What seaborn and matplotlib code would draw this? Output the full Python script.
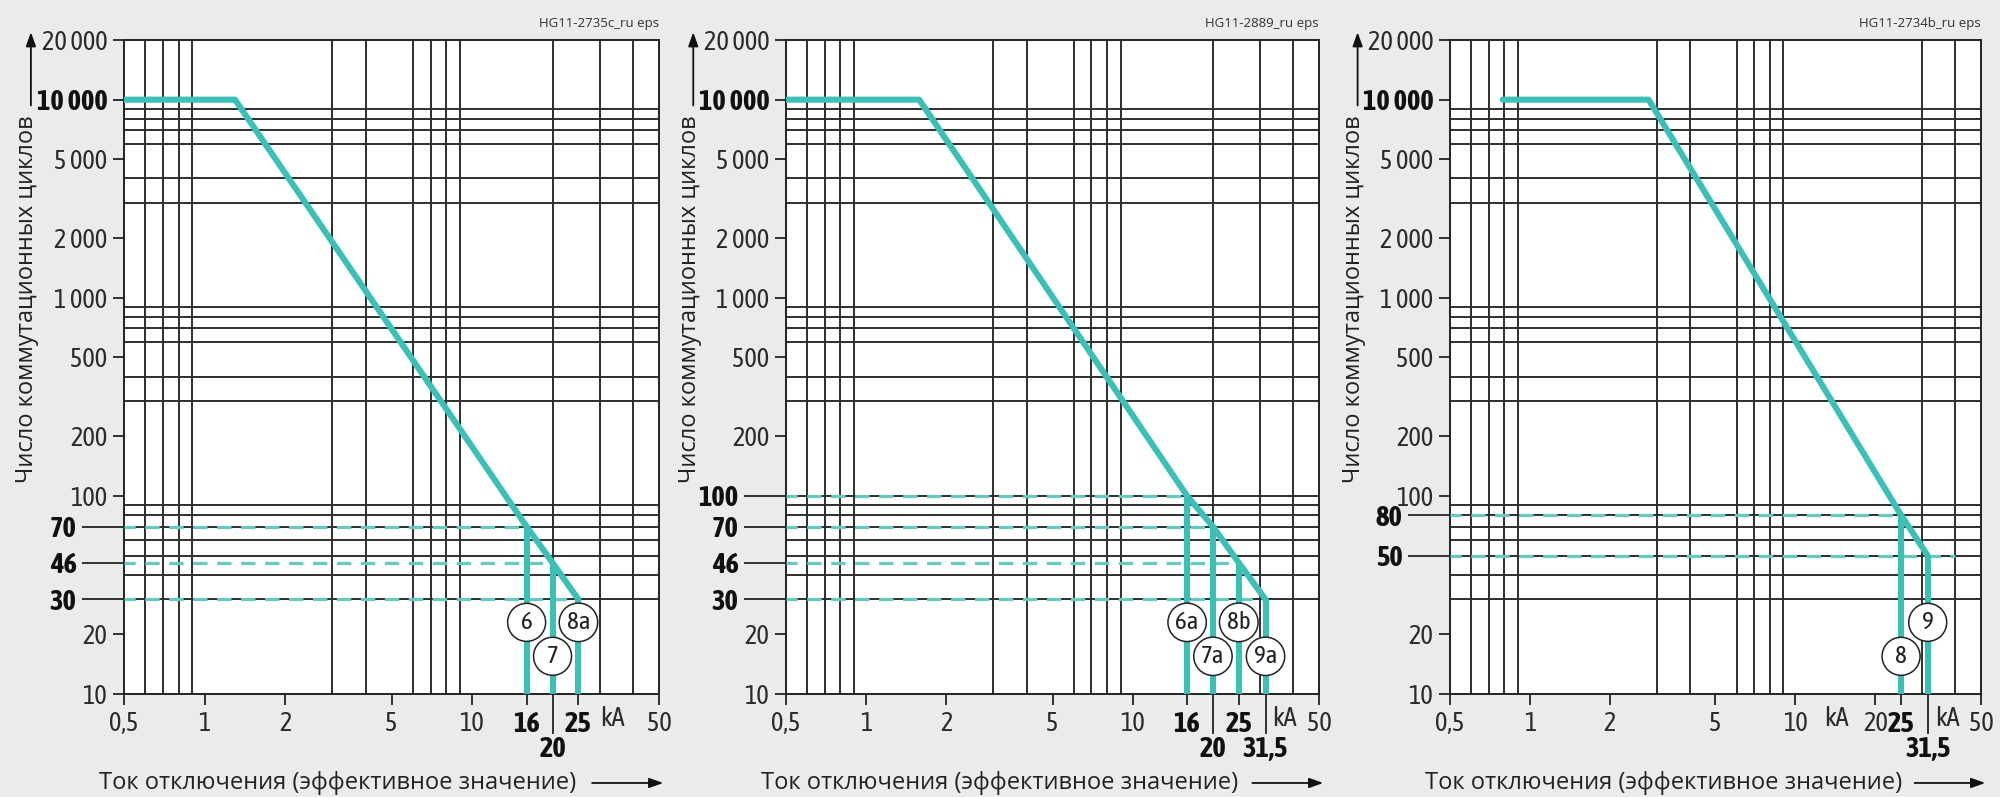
import matplotlib.pyplot as plt
import seaborn as sns
import numpy as np
import pandas as pd
from matplotlib import font_manager
from matplotlib.ticker import LogLocator, NullLocator, NullFormatter

sns.set_theme(style="ticks")


# narrow faces for the numbers (regular + bold), a normal one for the axis titles
def _w(f):
    return f.weight if isinstance(f.weight, int) else font_manager.weight_dict.get(f.weight, 400)


installed = {f.name for f in font_manager.fontManager.ttflist}
narrow = {}
for f in font_manager.fontManager.ttflist:
    low = f.name.lower()
    if ("narrow" in low or "condensed" in low) and "dejavu" not in low:
        narrow.setdefault(f.name, set()).add(_w(f))
regular = sorted(n for n, ws in narrow.items() if any(350 <= w <= 450 for w in ws))
heavy = sorted(n for n, ws in narrow.items() if any(w >= 600 for w in ws))
both = [n for n in regular if n in heavy]

if both:
    NARROW, SZ = both[0], 19
elif regular:
    NARROW, SZ = regular[0], 19
else:
    NARROW, SZ = ("Roboto" if "Roboto" in installed else "Liberation Sans"), 16
if NARROW in heavy:
    BOLD, BSZ = NARROW, SZ + 1.5
elif heavy:
    BOLD, BSZ = heavy[0], SZ + 1.5
else:
    BOLD, BSZ = ("Roboto" if "Roboto" in installed else "Liberation Sans"), SZ - 2
TITLE = "Open Sans" if "Open Sans" in installed else "DejaVu Sans"
plt.rcParams["font.family"] = [NARROW, "DejaVu Sans"]

TEAL = "#3cbfb6"
TEAL_LIGHT = "#66cac2"
GRID = "#2e2e2e"

# --- data (current in kA, switching cycles) ---
y_ticks = [10, 20, 100, 200, 500, 1000, 2000, 5000, 10000, 20000]

p1_name = "HG11-2735c_ru eps"
p1_flat_ka = [0.5, 1.3]
p1_drop_ka = [16, 20, 25]
p1_drop_cycles = [70, 46, 30]
p1_dash_end = [16, 20, 25]
p1_marks = ["6", "7", "8a"]
p1_mark_cycles = [23, 15.5, 23]
p1_second_row = [20]
p1_x_ticks = [0.5, 1, 2, 5, 10, 50]
p1_ka_at = [33.5]

p2_name = "HG11-2889_ru eps"
p2_flat_ka = [0.5, 1.58]
p2_drop_ka = [16, 20, 25, 31.5]
p2_drop_cycles = [100, 70, 46, 30]
p2_dash_end = [16, 20, 25, 31.5]
p2_marks = ["6a", "7a", "8b", "9a"]
p2_mark_cycles = [23, 15.5, 23, 15.5]
p2_second_row = [20, 31.5]
p2_x_ticks = [0.5, 1, 2, 5, 10, 50]
p2_ka_at = [37]

p3_name = "HG11-2734b_ru eps"
p3_flat_ka = [0.79, 2.8]
p3_drop_ka = [25, 31.5]
p3_drop_cycles = [80, 50]
p3_dash_end = [25, 40]
p3_marks = ["8", "9"]
p3_mark_cycles = [15.5, 23]
p3_second_row = [31.5]
p3_x_ticks = [0.5, 1, 2, 5, 10, 20, 50]
p3_ka_at = [14.3, 37.5]

panels = [
    dict(name=p1_name, flat=p1_flat_ka, ka=p1_drop_ka, n=p1_drop_cycles, dash=p1_dash_end,
         marks=p1_marks, mark_n=p1_mark_cycles, row2=p1_second_row, xt=p1_x_ticks, ka_at=p1_ka_at),
    dict(name=p2_name, flat=p2_flat_ka, ka=p2_drop_ka, n=p2_drop_cycles, dash=p2_dash_end,
         marks=p2_marks, mark_n=p2_mark_cycles, row2=p2_second_row, xt=p2_x_ticks, ka_at=p2_ka_at),
    dict(name=p3_name, flat=p3_flat_ka, ka=p3_drop_ka, n=p3_drop_cycles, dash=p3_dash_end,
         marks=p3_marks, mark_n=p3_mark_cycles, row2=p3_second_row, xt=p3_x_ticks, ka_at=p3_ka_at),
]

positions = [
    [0.062, 0.1292, 0.2675, 0.8206],
    [0.393, 0.1292, 0.2665, 0.8206],
    [0.725, 0.1292, 0.2655, 0.8206],
]


def fmt(v):
    if v == int(v):
        return f"{int(v):,}".replace(",", " ")
    return str(v).replace(".", ",")


def make_bold(t):
    t.set_fontfamily(BOLD)
    t.set_fontweight("bold")
    t.set_fontsize(BSZ)
    t.set_color("#111111")


fig = plt.figure(figsize=(20, 7.97), dpi=100, facecolor="#ebebeb")

for p, pos in zip(panels, positions):
    ax = fig.add_axes(pos)
    ax.set_facecolor("white")
    ax.set_xscale("log")
    ax.set_yscale("log")
    ax.set_xlim(0.5, 50)
    ax.set_ylim(10, 20000)

    # grid at every 1..9 x decade, no grid at the bold extra ticks
    for axis in (ax.xaxis, ax.yaxis):
        axis.set_minor_locator(LogLocator(base=10, subs=np.arange(1, 10)))
        axis.set_minor_formatter(NullFormatter())
    ax.grid(False, which="major")
    ax.grid(True, which="minor", color=GRID, lw=1.4)
    ax.set_axisbelow(True)

    # main curve
    curve = pd.DataFrame({
        "ka": p["flat"] + p["ka"],
        "cycles": [10000] * len(p["flat"]) + p["n"],
    })
    sns.lineplot(data=curve, x="ka", y="cycles", ax=ax, sort=False, estimator=None,
                 color=TEAL, lw=4.4, zorder=4)
    ax.vlines(p["ka"], 10, p["n"], color=TEAL, lw=4.4, zorder=4)
    ax.hlines(p["n"], 0.5, p["dash"], color=TEAL_LIGHT, lw=2.3,
              linestyles=(1, (4.5, 3.0)), zorder=3)

    for s, x, y in zip(p["marks"], p["ka"], p["mark_n"]):
        ax.text(x, y, s, ha="center", va="center", fontsize=SZ - 1, color="#222222", zorder=6,
                bbox=dict(boxstyle="circle,pad=0.3", fc="white", ec="#222222", lw=1.1))

    # ticks
    row1 = [v for v in p["ka"] if v not in p["row2"]]
    xt = sorted(p["xt"] + row1)
    ax.set_xticks(xt, labels=[fmt(v) for v in xt])
    yt = [v for v in y_ticks if v not in p["n"]]
    ax.set_yticks(yt, labels=[fmt(v) for v in yt])
    ax.tick_params(which="major", length=8, width=1.3, color="#222222", pad=4,
                   labelsize=SZ, labelcolor="#2b2b2b", bottom=True, left=True, direction="out")
    ax.tick_params(which="minor", length=0)
    bold = {fmt(v) for v in row1} | {"10 000"}
    for t in ax.get_xticklabels() + ax.get_yticklabels():
        if t.get_text() in bold:
            make_bold(t)
    for sp in ax.spines.values():
        sp.set_visible(True)
        sp.set_color("#222222")
        sp.set_linewidth(1.4)

    # second row of x labels with long ticks
    sx = ax.secondary_xaxis("bottom")
    sx.set_ticks(p["row2"], labels=[fmt(v) for v in p["row2"]])
    sx.xaxis.set_minor_locator(NullLocator())
    sx.tick_params(length=29, width=1.3, color="#222222", pad=1)
    for t in sx.get_xticklabels():
        make_bold(t)
    sx.spines["bottom"].set_visible(False)

    # bold cycle values with long ticks
    sy = ax.secondary_yaxis("left")
    sy.set_ticks(p["n"], labels=[fmt(v) for v in p["n"]])
    sy.yaxis.set_minor_locator(NullLocator())
    sy.tick_params(length=30, width=1.3, color="#222222", pad=4)
    for t in sy.get_yticklabels():
        make_bold(t)
    sy.spines["left"].set_visible(False)

    for x in p["ka_at"]:
        ax.text(x, -0.037, "kA", transform=ax.get_xaxis_transform(), ha="center", va="center",
                fontsize=SZ, color="#2b2b2b")

    ax.set_xlabel("")
    ax.set_ylabel("")

    # axis titles with arrows
    ax.text(-0.181, 0.885, "Число коммутационных циклов", rotation=90, ha="center", va="top",
            transform=ax.transAxes, fontsize=17, family=TITLE, color="#222222")
    ax.annotate("", xy=(-0.174, 1.012), xytext=(-0.174, 0.9), xycoords="axes fraction",
                arrowprops=dict(arrowstyle="-|>,head_length=0.7,head_width=0.25", color="#111111",
                                lw=1.3, shrinkA=0, shrinkB=0), annotation_clip=False)
    ax.text(-0.047, -0.136, "Ток отключения (эффективное значение)", ha="left", va="center",
            transform=ax.transAxes, fontsize=17, family=TITLE, color="#222222")
    ax.annotate("", xy=(1.008, -0.136), xytext=(0.875, -0.136), xycoords="axes fraction",
                arrowprops=dict(arrowstyle="-|>,head_length=0.7,head_width=0.25", color="#111111",
                                lw=1.3, shrinkA=0, shrinkB=0), annotation_clip=False)
    ax.text(1.0, 1.026, p["name"], ha="right", va="center", transform=ax.transAxes,
            fontsize=9.5, family=TITLE, color="#333333")

fig.savefig("out.png", dpi=100, facecolor=fig.get_facecolor())
